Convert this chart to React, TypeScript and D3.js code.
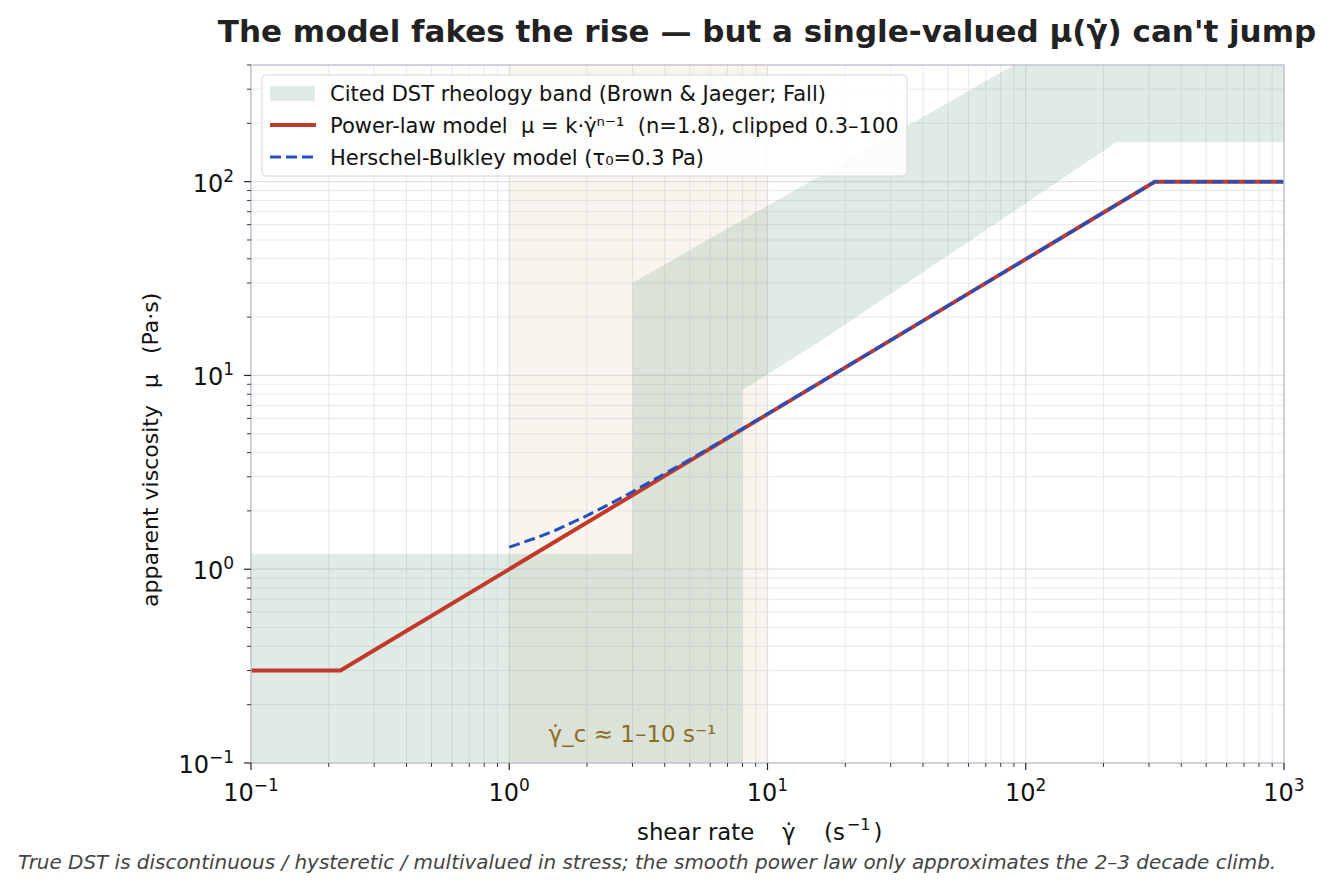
import * as d3 from "d3";

// axis ranges and ticks
const xDomain: [number, number] = [0.1, 1000];
const yDomain: [number, number] = [0.1, 400];
const xMajor = [0.1, 1, 10, 100, 1000];
const xMajorExp = ["−1", "0", "1", "2", "3"];
const yMajor = [0.1, 1, 10, 100];
const yMajorExp = ["−1", "0", "1", "2"];

// cited band, upper and lower edges [shear rate, viscosity]
const bandUpper: [number, number][] = [
  [0.1, 1.2], [3, 1.2], [3, 30], [90, 400], [1000, 400],
];
const bandLower: [number, number][] = [
  [0.1, 0.1], [8, 0.1], [8, 8.4], [16, 15], [225, 160], [1000, 160],
];
// DST onset window
const onsetWindow: [number, number] = [1, 10];

// power-law model vertices (clipped 0.3–100)
const powerX = [0.1, 0.222, 316, 1000];
const powerY = [0.3, 0.3, 100, 100];

// Herschel-Bulkley model
const hbX = [1, 1.25, 1.5, 2, 2.5, 3, 4, 5, 7, 10, 20, 30, 50, 100, 200, 316, 1000];
const hbY = [1.3, 1.44, 1.58, 1.89, 2.2, 2.51, 3.11, 3.68, 4.78, 6.34, 11.0, 15.2, 22.9, 39.8, 69.3, 100, 100];

const FONT = "DejaVu Sans, Verdana, sans-serif";

export default function App() {
  const W = 1333;
  const H = 893;
  const m = { left: 251, right: 1284, top: 65, bottom: 763 };

  const x = d3.scaleLog().domain(xDomain).range([m.left, m.right]);
  const y = d3.scaleLog().domain(yDomain).range([m.bottom, m.top]);

  const minorX: number[] = [];
  for (let e = -1; e < 3; e++)
    for (let k = 2; k <= 9; k++) minorX.push(k * Math.pow(10, e));
  const minorY: number[] = [];
  for (let e = -1; e < 3; e++)
    for (let k = 2; k <= 9; k++) {
      const v = k * Math.pow(10, e);
      if (v <= yDomain[1] + 1e-9) minorY.push(v);
    }

  const line = d3
    .line<[number, number]>()
    .x((d) => x(d[0]))
    .y((d) => y(d[1]));

  const bandPath =
    line([...bandUpper, ...bandLower.slice().reverse()]) + "Z";
  const powerPath = line(powerX.map((v, i) => [v, powerY[i]] as [number, number]));
  const hbPath = line(hbX.map((v, i) => [v, hbY[i]] as [number, number]));

  const bandColor = "#5c9479";
  const bandOpacity = 0.19;
  const onsetColor = "#d2b47a";

  return (
    <svg
      width={W}
      height={H}
      style={{ position: "absolute", left: 0, top: 0, background: "#fff" }}
      fontFamily={FONT}
    >
      <defs>
        <clipPath id="plot">
          <rect x={m.left} y={m.top} width={m.right - m.left} height={m.bottom - m.top} />
        </clipPath>
      </defs>

      {/* grid */}
      <g>
        {minorX.map((v) => (
          <line key={"gx" + v} x1={x(v)} x2={x(v)} y1={m.top} y2={m.bottom} stroke="#e8e8ee" strokeWidth={1} />
        ))}
        {minorY.map((v) => (
          <line key={"gy" + v} x1={m.left} x2={m.right} y1={y(v)} y2={y(v)} stroke="#e8e8ee" strokeWidth={1} />
        ))}
        {xMajor.map((v) => (
          <line key={"Gx" + v} x1={x(v)} x2={x(v)} y1={m.top} y2={m.bottom} stroke="#e0e0e8" strokeWidth={1.2} />
        ))}
        {yMajor.map((v) => (
          <line key={"Gy" + v} x1={m.left} x2={m.right} y1={y(v)} y2={y(v)} stroke="#e0e0e8" strokeWidth={1.2} />
        ))}
      </g>

      <g clipPath="url(#plot)">
        {/* onset window */}
        <rect
          x={x(onsetWindow[0])}
          y={m.top}
          width={x(onsetWindow[1]) - x(onsetWindow[0])}
          height={m.bottom - m.top}
          fill={onsetColor}
          opacity={0.13}
        />
        {/* cited band */}
        <path d={bandPath} fill={bandColor} opacity={bandOpacity} />

        <path d={powerPath!} fill="none" stroke="#c0392b" strokeWidth={4} strokeLinejoin="round" />
        <path
          d={hbPath!}
          fill="none"
          stroke="#2350c0"
          strokeWidth={3}
          strokeDasharray="11,5"
          strokeLinejoin="round"
        />

        <text
          x={x(3.0)}
          y={742}
          textAnchor="middle"
          fontSize={23}
          fill="#8c6d1f"
        >
          γ̇_c ≈ 1–10 s⁻¹
        </text>
      </g>

      {/* spines */}
      <rect
        x={m.left}
        y={m.top}
        width={m.right - m.left}
        height={m.bottom - m.top}
        fill="none"
        stroke="#c4c4d0"
        strokeWidth={1.4}
      />

      {/* x ticks */}
      <g>
        {minorX.map((v) => (
          <line key={"mx" + v} x1={x(v)} x2={x(v)} y1={m.bottom} y2={m.bottom + 4} stroke="#222" strokeWidth={0.9} />
        ))}
        {xMajor.map((v, i) => (
          <g key={"Mx" + v}>
            <line x1={x(v)} x2={x(v)} y1={m.bottom} y2={m.bottom + 7} stroke="#222" strokeWidth={1.2} />
            <text x={x(v)} y={801} textAnchor="middle" fontSize={24} fill="#111">
              10
              <tspan dy={-10} fontSize={17}>
                {xMajorExp[i]}
              </tspan>
            </text>
          </g>
        ))}
      </g>

      {/* y ticks */}
      <g>
        {minorY.map((v) => (
          <line key={"my" + v} x1={m.left - 4} x2={m.left} y1={y(v)} y2={y(v)} stroke="#222" strokeWidth={0.9} />
        ))}
        {yMajor.map((v, i) => (
          <g key={"My" + v}>
            <line x1={m.left - 7} x2={m.left} y1={y(v)} y2={y(v)} stroke="#222" strokeWidth={1.2} />
            <text x={m.left - 17} y={y(v) + 10} textAnchor="end" fontSize={24} fill="#111">
              10
              <tspan dy={-10} fontSize={17}>
                {yMajorExp[i]}
              </tspan>
            </text>
          </g>
        ))}
      </g>

      {/* axis labels */}
      <text y={840} fontSize={22.8} fill="#111">
        <tspan x={637}>shear rate</tspan>
        <tspan x={782}>γ̇</tspan>
        <tspan x={824}>(s</tspan>
        <tspan dx={2} dy={-10} fontSize={16}>−1</tspan>
        <tspan dx={3} dy={10}>)</tspan>
      </text>
      <text transform="translate(158,0) rotate(-90)" fontSize={22} fill="#111">
        <tspan x={-607}>apparent viscosity</tspan>
        <tspan x={-388}>μ</tspan>
        <tspan x={-354}>(Pa·s)</tspan>
      </text>

      {/* title */}
      <text
        x={767}
        y={42}
        textAnchor="middle"
        fontSize={31}
        fontWeight="bold"
        fill="#222"
      >
        The model fakes the rise — but a single-valued μ(γ̇) can't jump
      </text>

      {/* legend */}
      <g>
        <rect x={262} y={75} width={645} height={101} rx={4} fill="#fff" fillOpacity={0.85} stroke="#d6d6d6" />
        <rect x={270} y={86} width={45} height={15} fill={bandColor} opacity={bandOpacity} />
        <line x1={270} x2={316} y1={125} y2={125} stroke="#c0392b" strokeWidth={4} />
        <line x1={270} x2={316} y1={157} y2={157} stroke="#2350c0" strokeWidth={3} strokeDasharray="11,5" />
        <g fontSize={21} fill="#111">
          <text x={330} y={101} xmlSpace="preserve" style={{ whiteSpace: "pre" }}>
            Cited DST rheology band (Brown &amp; Jaeger; Fall)
          </text>
          <text x={330} y={133} xmlSpace="preserve" style={{ whiteSpace: "pre" }}>
            {"Power-law model  μ = k·γ̇ⁿ⁻¹  (n=1.8), clipped 0.3–100"}
          </text>
          <text x={330} y={165} xmlSpace="preserve" style={{ whiteSpace: "pre" }}>
            Herschel-Bulkley model (τ₀=0.3 Pa)
          </text>
        </g>
      </g>

      {/* caption */}
      <text x={18} y={869} fontSize={19.95} fontStyle="italic" fill="#444">
        True DST is discontinuous / hysteretic / multivalued in stress; the smooth power law only approximates the 2–3 decade climb.
      </text>
    </svg>
  );
}
